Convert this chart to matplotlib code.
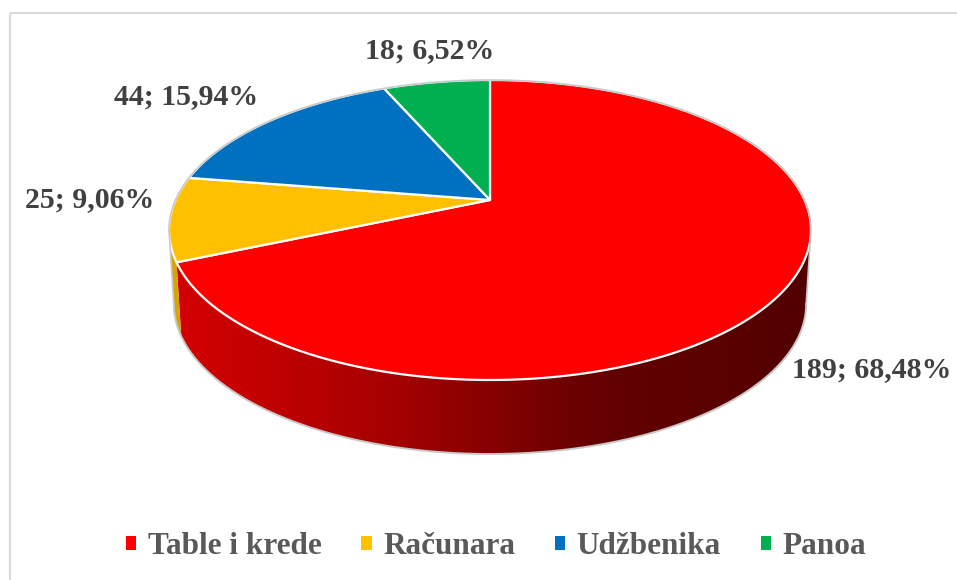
import numpy as np
import matplotlib.pyplot as plt
from matplotlib.patches import Polygon, Patch, Rectangle

categories = ['Table i krede', 'Računara', 'Udžbenika', 'Panoa']
values = [189, 25, 44, 18]
colors = ['#ff0000', '#ffc000', '#0070c0', '#00b050']
wall_colors = [None, '#d9a300', '#005a9c', '#008c40']
# label anchor positions (pixels) - outside end like in Excel
label_pos = [(792, 370, 'left'), (90, 200, 'center'), (186, 97, 'center'), (430, 51, 'center')]

plt.rcParams['font.family'] = ['Liberation Serif', 'DejaVu Serif']

W, Hpx = 957, 580
fig = plt.figure(figsize=(W / 100, Hpx / 100), dpi=100)
ax = fig.add_axes([0, 0, 1, 1])
ax.set_xlim(0, W)
ax.set_ylim(Hpx, 0)
ax.axis('off')

# outer chart frame (cropped at right / bottom)
ax.add_patch(Rectangle((10, 13), 1000, 700, fill=False, ec='#d9d9d9', lw=1.5))

# simple perspective pie: t = angle clockwise from 12 o'clock
cx, cy = 490, 200
A, B, k = 314.5, 144, 0.2
depth = 74


def top(t):
    d = 1 + k * np.cos(t)
    return cx + A * np.sin(t) / d, cy - B * np.cos(t) / d


def bot(t):
    x, y = top(t)
    return cx + (x - cx) * 0.985, y + depth


total = sum(values)
frac = np.array(values) / total
edges = np.concatenate([[0], np.cumsum(frac)]) * 2 * np.pi
t_r = np.arccos(-k)
t_l = 2 * np.pi - t_r

# red shading gradient, left to right
gx = np.linspace(160, 820, 400)
gr = np.interp(gx, [175, 380, 600, 810], [212, 168, 100, 82]) / 255
grad = np.zeros((2, len(gx), 3))
grad[:, :, 0] = gr

# side walls
for i in range(len(values)):
    a, b = max(edges[i], t_r), min(edges[i + 1], t_l)
    if b <= a:
        continue
    ts = np.linspace(a, b, 300)
    xt, yt = top(ts)
    xb, yb = bot(ts[::-1])
    pts = list(zip(xt, yt)) + list(zip(xb, yb))
    if wall_colors[i] is None:
        poly = Polygon(pts, closed=True, fc='none', ec='none')
        ax.add_patch(poly)
        im = ax.imshow(grad, extent=(160, 820, 480, 180), aspect='auto',
                       interpolation='bilinear', zorder=1)
        im.set_clip_path(poly)
    else:
        ax.add_patch(Polygon(pts, closed=True, fc=wall_colors[i], ec='none', zorder=1))

# top face wedges
for i in range(len(values)):
    ts = np.linspace(edges[i], edges[i + 1], 200)
    xs, ys = top(ts)
    pts = [(cx, cy)] + list(zip(xs, ys))
    ax.add_patch(Polygon(pts, closed=True, fc=colors[i], ec='white', lw=1.6,
                         joinstyle='round', zorder=2))

# light grey outline
ts = np.linspace(t_l, 2 * np.pi + t_r, 300)
ax.plot(*top(ts), color='#c8c8c8', lw=1.2, zorder=3)
ts = np.linspace(t_r, t_l, 300)
ax.plot(*bot(ts), color='#c8c8c8', lw=1.4, zorder=3)
for t in (t_r, t_l):
    (x0, y0), (x1, y1) = top(t), bot(t)
    ax.plot([x0, x1], [y0, y1], color='#c8c8c8', lw=1.2, zorder=3)

# data labels
for v, f, (lx, ly, ha) in zip(values, frac, label_pos):
    txt = f'{v}; {f * 100:.2f}%'.replace('.', ',')
    ax.text(lx, ly, txt, ha=ha, va='center', fontsize=21.5, fontweight='bold',
            color='#404040', clip_on=False, zorder=4)

ax.set_xlim(0, W)
ax.set_ylim(Hpx, 0)

handles = [Patch(fc=c, ec='none') for c in colors]
leg = fig.legend(handles, categories, loc='center', ncol=4,
                 bbox_to_anchor=(496 / W, 1 - 547 / Hpx), frameon=False,
                 prop={'size': 22.5, 'weight': 'bold'},
                 handlelength=0.33, handleheight=0.33, handletextpad=0.36,
                 columnspacing=1.28, borderpad=0)
for t in leg.get_texts():
    t.set_color('#595959')

fig.savefig('out.png', dpi=100)
